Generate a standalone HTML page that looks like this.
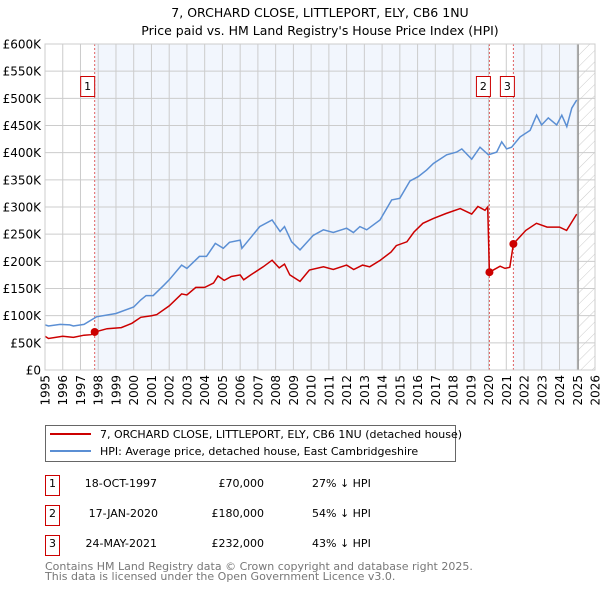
<!DOCTYPE html>
<html><head><meta charset="utf-8"><style>
body{margin:0;background:#fff;width:600px;height:590px;overflow:hidden;font-family:"DejaVu Sans","Liberation Sans",sans-serif}
svg{display:block}
</style></head><body>
<svg id="chart" width="600" height="590" xmlns="http://www.w3.org/2000/svg" font-family="DejaVu Sans, Liberation Sans, sans-serif">
<defs>
<pattern id="hatch" width="8" height="8" patternUnits="userSpaceOnUse" patternTransform="rotate(45)">
<line x1="0" y1="0" x2="0" y2="8" stroke="#ccc" stroke-width="1"/></pattern>
</defs>
<text x="320" y="17" text-anchor="middle" font-size="12.5" fill="#000">7, ORCHARD CLOSE, LITTLEPORT, ELY, CB6 1NU</text>
<text x="320" y="35" text-anchor="middle" font-size="12.5" fill="#000">Price paid vs. HM Land Registry's House Price Index (HPI)</text>
<g id="plot"></g>
<g>
<rect x="45.5" y="425.5" width="410" height="36" fill="#fff" stroke="#666"/>
<line x1="50" y1="434" x2="91" y2="434" stroke="#cc0000" stroke-width="2"/>
<text x="100" y="438" font-size="11">7, ORCHARD CLOSE, LITTLEPORT, ELY, CB6 1NU (detached house)</text>
<line x1="50" y1="451" x2="91" y2="451" stroke="#5b8fd4" stroke-width="2"/>
<text x="100" y="455" font-size="11">HPI: Average price, detached house, East Cambridgeshire</text>
</g>
<g font-size="11">
<rect x="45.5" y="475.5" width="14" height="20" fill="#fff" stroke="#cc0000"/><text x="52.5" y="487" text-anchor="middle">1</text>
<text x="157" y="487" text-anchor="end">18-OCT-1997</text><text x="264" y="487" text-anchor="end">£70,000</text><text x="312" y="487">27% ↓ HPI</text>
<rect x="45.5" y="505.5" width="14" height="20" fill="#fff" stroke="#cc0000"/><text x="52.5" y="517" text-anchor="middle">2</text>
<text x="158" y="517" text-anchor="end">17-JAN-2020</text><text x="264" y="517" text-anchor="end">£180,000</text><text x="312" y="517">54% ↓ HPI</text>
<rect x="45.5" y="535.5" width="14" height="20" fill="#fff" stroke="#cc0000"/><text x="52.5" y="547" text-anchor="middle">3</text>
<text x="157" y="547" text-anchor="end">24-MAY-2021</text><text x="264" y="547" text-anchor="end">£232,000</text><text x="312" y="547">43% ↓ HPI</text>
</g>
<text x="45" y="570" font-size="11" fill="#777">Contains HM Land Registry data © Crown copyright and database right 2025.</text>
<text x="45" y="580" font-size="11" fill="#777">This data is licensed under the Open Government Licence v3.0.</text>
</svg>
<script>
const yTicks=[0,50,100,150,200,250,300,350,400,450,500,550,600];
const yTickLabels=["£0","£50K","£100K","£150K","£200K","£250K","£300K","£350K","£400K","£450K","£500K","£550K","£600K"];
const years=[1995,1996,1997,1998,1999,2000,2001,2002,2003,2004,2005,2006,2007,2008,2009,2010,2011,2012,2013,2014,2015,2016,2017,2018,2019,2020,2021,2022,2023,2024,2025,2026];
const hpiT=[1995,1995.2,1995.85,1996.4,1996.6,1997.2,1997.9,1999.0,2000.0,2000.4,2000.7,2001.1,2001.7,2002.0,2002.7,2003.0,2003.7,2004.1,2004.6,2005.05,2005.4,2006.0,2006.1,2006.7,2007.1,2007.8,2008.25,2008.5,2008.9,2009.37,2010.12,2010.69,2011.25,2012.0,2012.38,2012.75,2013.13,2013.88,2014.54,2015.0,2015.57,2016.04,2016.51,2016.89,2017.64,2018.2,2018.49,2019.05,2019.52,2019.99,2020.46,2020.74,2021.02,2021.3,2021.78,2022.34,2022.71,2022.99,2023.37,2023.84,2024.13,2024.41,2024.69,2024.97];
const hpiV=[83,81,84,83,81,84,98,104,116,129,137,137,156,166,193,187,209,209,233,224,235,239,224,248,264,276,255,264,236,221,248,258,253,261,253,264,258,276,313,316,348,356,368,380,396,401,407,388,410,396,401,420,407,410,429,441,469,451,464,451,469,448,482,497];
const ppT=[1995,1995.2,1996,1996.6,1997.2,1997.6,1997.8,1998.5,1999.3,1999.9,2000.4,2001.0,2001.3,2002.0,2002.7,2003.0,2003.5,2004.0,2004.5,2004.75,2005.1,2005.5,2006.0,2006.2,2006.6,2007.3,2007.8,2008.2,2008.5,2008.8,2009.37,2009.9,2010.7,2011.25,2012.0,2012.4,2012.9,2013.3,2013.9,2014.5,2014.8,2015.4,2015.8,2016.3,2016.9,2017.6,2018.4,2019.05,2019.4,2019.8,2019.95,2020.05,2020.65,2020.93,2021.2,2021.4,2022.1,2022.7,2023.3,2024.0,2024.4,2024.97];
const ppV=[62,58,62,60,64,65,70,76,78,86,97,100,102,118,140,138,152,152,160,173,165,172,175,166,175,190,202,188,195,175,163,184,190,185,193,185,193,190,202,217,229,236,254,270,279,288,297,287,301,294,300,180,191,187,189,232,257,270,263,263,257,287];
const saleLabels=["1","2","3"];
const saleT=[1997.8,2020.05,2021.4];
const saleV=[70,180,232];
const L=45,R=595,T=44,B=370,Y0=1995,Y1=2026,VMAX=600;
const xs=t=>L+(t-Y0)/(Y1-Y0)*(R-L);
const ys=v=>B-v/VMAX*(B-T);
const NS="http://www.w3.org/2000/svg";
const plot=document.getElementById('plot');
function mk(tag,attrs,parent){const e=document.createElementNS(NS,tag);for(const k in attrs)e.setAttribute(k,attrs[k]);(parent||plot).appendChild(e);return e;}
let bg=mk('rect',{x:L,y:T,width:R-L,height:B-T,fill:'#fff'});


let s1=mk('rect',{x:xs(saleT[0]),y:T,width:xs(saleT[1])-xs(saleT[0]),height:B-T,fill:'#f2f6fd'});


let s2=mk('rect',{x:xs(saleT[2]),y:T,width:xs(2025.05)-xs(saleT[2]),height:B-T,fill:'#f2f6fd'});


let hz=mk('rect',{x:xs(2025.05),y:T,width:R-xs(2025.05),height:B-T,fill:'url(#hatch)'});


yTicks.forEach((v,i)=>{
 let g=mk('line',{x1:L,x2:R,y1:ys(v),y2:ys(v),stroke:'#ccc','stroke-width':1});
 
 
 let t=mk('text',{x:L-4,y:ys(v)+4.5,'text-anchor':'end','font-size':12});
 t.textContent=yTickLabels[i];
 
 
});
years.forEach(yr=>{
 let g=mk('line',{x1:xs(yr),x2:xs(yr),y1:T,y2:B,stroke:'#ccc','stroke-width':1});
 
 
 let t=mk('text',{x:0,y:0,'text-anchor':'end','font-size':12,transform:`translate(${xs(yr)+4.5},${B+5}) rotate(-90)`});
 t.textContent=yr;
 
 
});
let nl=mk('line',{x1:xs(2025.05),x2:xs(2025.05),y1:T,y2:B,stroke:'#999','stroke-width':1.5});


saleT.forEach((t,i)=>{
 let l=mk('line',{x1:xs(t),x2:xs(t),y1:T,y2:B,stroke:'#e06060','stroke-width':1,'stroke-dasharray':'2,2'});
 
 
});
const pts=(T_,V_)=>T_.map((t,i)=>xs(t).toFixed(1)+','+ys(V_[i]).toFixed(1)).join(' ');
let hl=mk('polyline',{points:pts(hpiT,hpiV),fill:'none',stroke:'#5b8fd4','stroke-width':1.5});


let pl=mk('polyline',{points:pts(ppT,ppV),fill:'none',stroke:'#cc0000','stroke-width':1.5});


saleT.forEach((t,i)=>{
 let c=mk('circle',{cx:xs(t),cy:ys(saleV[i]),r:4,fill:'#cc0000'});
 
 
 const bx=xs(t)-(i==0?3:2)-11;
 let r=mk('rect',{x:bx,y:76.5,width:14,height:20,fill:'#fff',stroke:'#cc0000'});
 
 
 let tx=mk('text',{x:bx+7,y:90,'text-anchor':'middle','font-size':11});
 tx.textContent=saleLabels[i];
 
 
});
let fr=mk('rect',{x:L,y:T,width:R-L,height:B-T,fill:'none',stroke:'#ccc'});


</script>
</body></html>
